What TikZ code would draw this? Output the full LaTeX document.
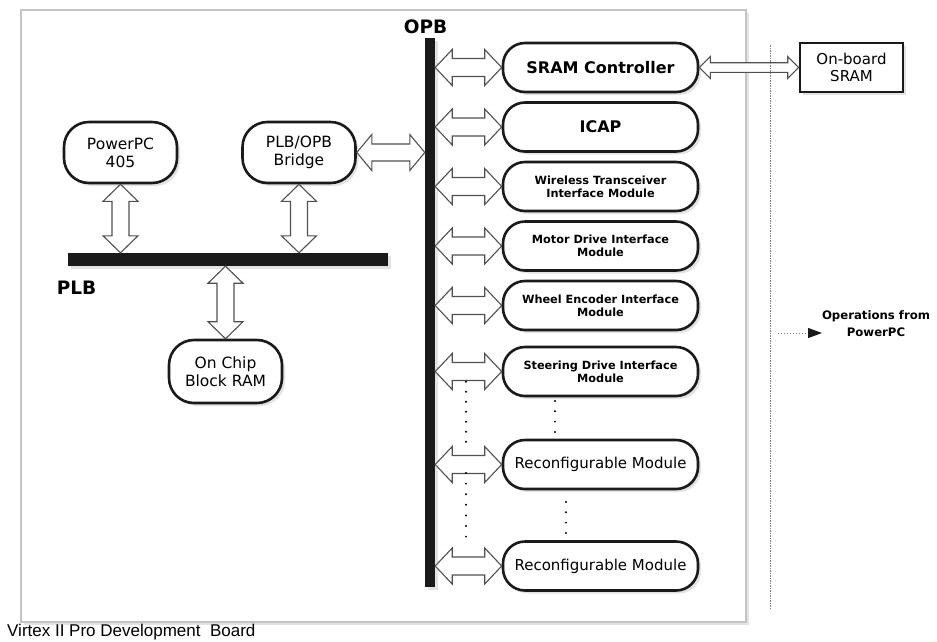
\documentclass[tikz,border=0pt]{standalone}
\usepackage{fontspec}
\setmainfont{DejaVu Sans}
\newfontfamily\capfont{Liberation Sans}
\usetikzlibrary{calc,shadows,arrows.meta}

\definecolor{ink}{HTML}{1A1A1A}
\definecolor{arrowgray}{HTML}{505050}
\definecolor{framegray}{HTML}{C4C4C4}

\tikzset{
  softshadow/.style={drop shadow={opacity=0.22, shadow xshift=3pt, shadow yshift=-3pt}},
  unit/.style={draw=ink, line width=2.6pt, fill=white, rounded corners=22pt,
    minimum width=195pt, minimum height=49pt, align=center, inner sep=0pt, softshadow},
  core/.style={unit, minimum width=113pt, minimum height=61pt, rounded corners=25pt,
    font=\fontsize{15.5}{18}\selectfont},
  bigtitle/.style={font=\bfseries\fontsize{16}{19}\selectfont},
  smalltitle/.style={font=\bfseries\fontsize{11.3}{13}\selectfont},
  plaintitle/.style={font=\fontsize{15}{18}\selectfont},
  membox/.style={draw=ink, line width=2.6pt, fill=white, minimum width=103pt,
    minimum height=49pt, align=center, inner sep=0pt, softshadow,
    font=\fontsize{15}{17}\selectfont},
  bus/.style={fill=ink, draw=none, inner sep=0pt, softshadow},
  buslabel/.style={font=\bfseries\fontsize{18.5}{20}\selectfont, inner sep=0pt},
  hollow/.style={draw=arrowgray, line width=1.1pt, fill=white, line join=miter},
  dotcol/.style={line width=2.2pt, line cap=round},
}

% hollow double-headed arrow: from, to, shaft half width, head half width, head length
\newcommand{\biarrow}[5]{%
  \coordinate (ba) at ($(#1)!#5!(#2)$);
  \coordinate (bb) at ($(#2)!#5!(#1)$);
  \draw[hollow] (#1) -- ($(ba)!#4!90:(#2)$) -- ($(ba)!#3!90:(#2)$)
    -- ($(bb)!#3!-90:(#1)$) -- ($(bb)!#4!-90:(#1)$) -- (#2)
    -- ($(bb)!#4!90:(#1)$) -- ($(bb)!#3!90:(#1)$)
    -- ($(ba)!#3!-90:(#2)$) -- ($(ba)!#4!-90:(#2)$) -- cycle;
}

\begin{document}
\begin{tikzpicture}[x=1pt, y=-1pt]
\useasboundingbox (0,0) rectangle (937,641);
\fill[white] (0,0) rectangle (937,641);

% development board frame and caption
\node[draw=framegray, line width=1.6pt, fill=white, minimum width=725pt,
  minimum height=612pt, inner sep=0pt, softshadow] (board) at (383.5,316) {};
\node[anchor=base west, inner sep=0pt, font=\capfont\fontsize{17}{20}\selectfont]
  (caption) at (7,636.5) {Virtex II Pro Development~~Board};

% buses
\node[bus, minimum width=320pt, minimum height=13pt] (plb) at (228,259.5) {};
\node[bus, minimum width=10pt, minimum height=549pt] (opb) at (430,312.5) {};
\node[buslabel] (plblabel) at (76.5,288) {PLB};
\node[buslabel] (opblabel) at (425.5,27) {OPB};

% PLB side
\node[core] (ppc) at (120.5,152.5) {PowerPC\\405};
\node[core] (bridge) at (299,152.5) {PLB/OPB\\Bridge};
\node[core, minimum height=63pt] (ram) at (225.5,371.5) {On Chip\\Block RAM};

% OPB peripherals
\node[unit, bigtitle]   (sram) at (600.5,67.5)  {SRAM Controller};
\node[unit, bigtitle]   (icap) at (600.5,127)   {ICAP};
\node[unit, smalltitle] (wtim) at (600.5,186.5) {Wireless Transceiver\\Interface Module};
\node[unit, smalltitle] (mdim) at (600.5,246)   {Motor Drive Interface\\Module};
\node[unit, smalltitle] (weim) at (600.5,305.5) {Wheel Encoder Interface\\Module};
\node[unit, smalltitle] (sdim) at (600.5,371.5) {Steering Drive Interface\\Module};
\node[unit, plaintitle] (rma)  at (600.5,464.5) {Reconfigurable Module};
\node[unit, plaintitle] (rmb)  at (600.5,566)   {Reconfigurable Module};

% external memory
\node[membox] (obsram) at (851.5,67.5) {On-board\\SRAM};

% PLB connections
\coordinate (ppcbus) at (ppc.south |- plb.north);
\biarrow{ppc.south}{ppcbus}{8.5pt}{17.5pt}{17pt}
\coordinate (brbus) at (bridge.south |- plb.north);
\biarrow{bridge.south}{brbus}{8.5pt}{17.5pt}{17pt}
\coordinate (rambus) at (ram.north |- plb.south);
\biarrow{rambus}{ram.north}{8.5pt}{17.5pt}{17pt}
\coordinate (bropb) at (opb.west |- bridge.east);
\biarrow{bridge.east}{bropb}{8.5pt}{18pt}{15pt}

% OPB connections
\foreach \m in {sram,icap,wtim,mdim,weim,sdim,rma,rmb}{
  \coordinate (\m-bus) at (opb.east |- \m.west);
  \biarrow{\m-bus}{\m.west}{9pt}{18pt}{17pt}
}
\biarrow{sram.east}{obsram.west}{4.8pt}{11pt}{11pt}

% elided bus taps and modules
\draw[dotcol, dash pattern=on 0pt off 10pt]   (466,381.7) -- (466,443);
\draw[dotcol, dash pattern=on 0pt off 10.6pt] (466,473) -- (466,537);
\draw[dotcol, dash pattern=on 0pt off 10.3pt] (555,401) -- (555,433);
\draw[dotcol, dash pattern=on 0pt off 10.3pt] (566,502) -- (566,534);

% on-chip / off-chip divider
\coordinate (divtop) at (770,45);
\coordinate (divbot) at (770,610);
\draw[gray, line width=0.9pt, dash pattern=on 1.5pt off 1pt] (divtop) -- (divbot);

% legend
\node[font=\bfseries\fontsize{11.7}{16.5}\selectfont, align=center, inner sep=0pt]
  (legtext) at (876,323.5) {Operations from\\PowerPC};
\coordinate (legstart) at (778,333);
\coordinate (legend) at (822,333);
\draw[gray, line width=1pt, dash pattern=on 1pt off 2pt,
  -{Triangle[length=14pt,width=10pt,fill=ink,color=ink]}] (legstart) -- (legend);
\end{tikzpicture}
\end{document}
